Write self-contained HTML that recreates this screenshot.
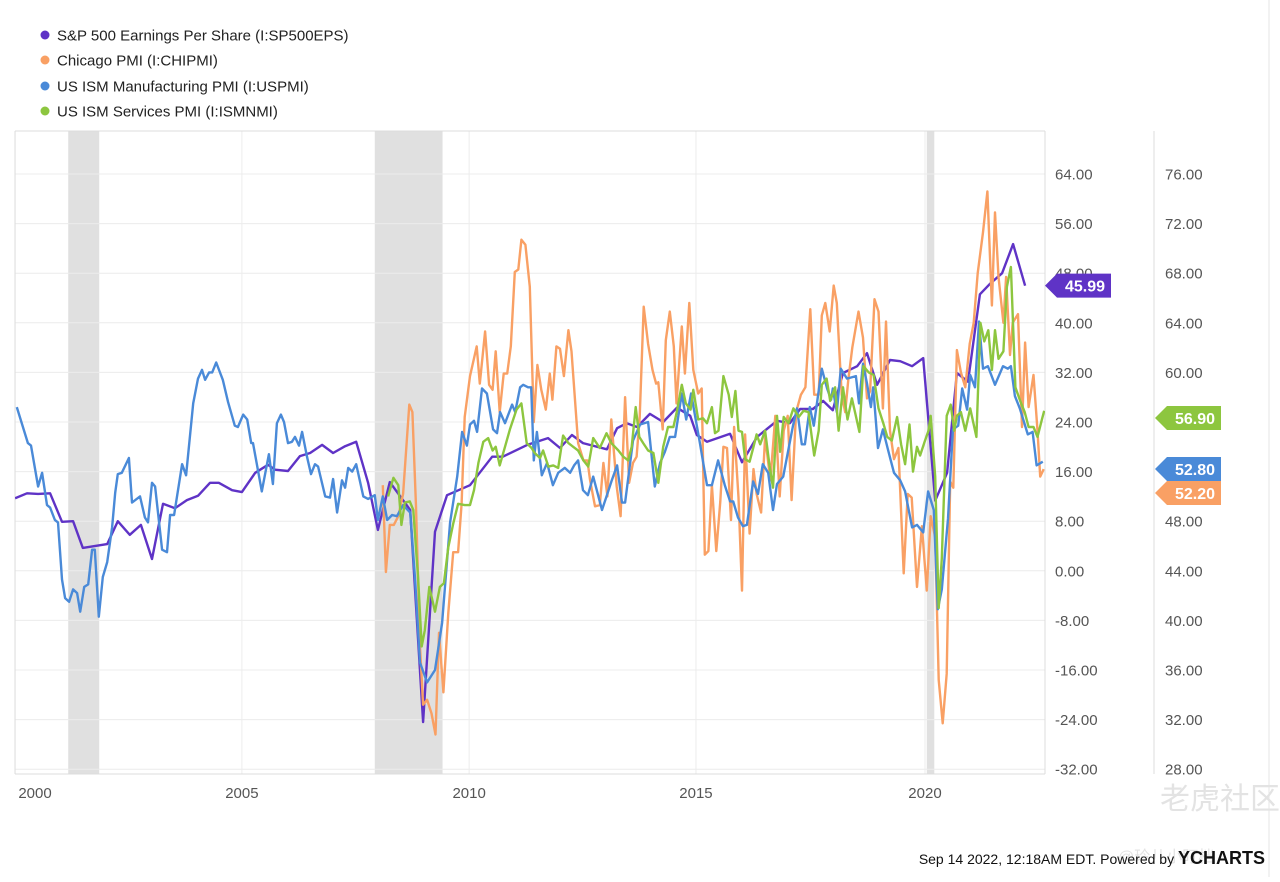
<!DOCTYPE html>
<html><head><meta charset="utf-8"><style>
html,body{margin:0;padding:0;background:#fff;}
body{width:1280px;height:877px;overflow:hidden;font-family:"Liberation Sans","Noto Sans CJK SC",sans-serif;}
svg text{font-family:"Liberation Sans","Noto Sans CJK SC",sans-serif;}
</style></head><body>
<svg id="chart" width="1280" height="877" xmlns="http://www.w3.org/2000/svg">
<rect x="0" y="0" width="1280" height="877" fill="#fff"/>
<line x1="1269" y1="0" x2="1269" y2="877" stroke="#e6e6e6"/>
<g id="legend">
<g><circle cx="45" cy="35" r="4.5" fill="#5f33c6"/><text x="57" y="40.5" font-size="15" fill="#222">S&amp;P 500 Earnings Per Share (I:SP500EPS)</text></g>
<g><circle cx="45" cy="60" r="4.5" fill="#f9a064"/><text x="57" y="65.5" font-size="15" fill="#222">Chicago PMI (I:CHIPMI)</text></g>
<g><circle cx="45" cy="86" r="4.5" fill="#4a8ad8"/><text x="57" y="91.5" font-size="15" fill="#222">US ISM Manufacturing PMI (I:USPMI)</text></g>
<g><circle cx="45" cy="111" r="4.5" fill="#8dc63f"/><text x="57" y="116.5" font-size="15" fill="#222">US ISM Services PMI (I:ISMNMI)</text></g>
</g>
<g id="bands"></g>
<g id="grid"></g>
<g id="axes"></g>
<defs><clipPath id="clip"><rect x="15" y="131" width="1030" height="643"/></clipPath></defs>
<g id="series" clip-path="url(#clip)"></g>
<g id="tags"></g>
<text x="1160" y="809" font-size="30" fill="#e3e3e3">老虎社区</text>
<text x="1118" y="862" font-size="16" fill="#e3e3e3">@玲儿小盯档</text>
<text x="1265" y="864" font-size="14" fill="#111" text-anchor="end">Sep 14 2022, 12:18AM EDT. Powered by <tspan font-weight="bold" font-size="18">YCHARTS</tspan></text>
</svg>
<script>
const leftTicks=[64,56,48,40,32,24,16,8,0,-8,-16,-24,-32];
const rightTicks=[76,72,68,64,60,56,52,48,44,40,36,32,28];
const yearTickPos=[1999.55,2004.67,2009.80,2014.92,2020.09];
const yearTickLabels=['2000','2005','2010','2015','2020'];
const recessions=[[2000.75,2001.45],[2007.67,2009.2],[2020.13,2020.3]];

const epsYears=[1999.55,1999.82,2000.07,2000.34,2000.61,2000.86,2001.08,2001.63,2001.87,2002.14,2002.39,2002.64,2002.89,2003.16,2003.43,2003.68,2003.95,2004.15,2004.45,2004.67,2004.97,2005.26,2005.42,2005.71,2005.98,2006.21,2006.48,2006.73,2007.0,2007.25,2007.52,2007.74,2008.01,2008.47,2008.76,2009.03,2009.30,2009.82,2010.32,2010.56,2011.11,2011.58,2011.85,2012.12,2012.37,2012.91,2013.14,2013.36,2013.59,2013.88,2014.18,2014.49,2014.79,2014.94,2015.17,2015.69,2015.96,2016.30,2016.75,2017.04,2017.27,2017.56,2017.79,2018.01,2018.24,2018.56,2018.78,2019.01,2019.30,2019.53,2019.80,2020.05,2020.32,2020.59,2020.81,2021.06,2021.33,2021.56,2021.83,2022.08,2022.35];
const epsValues=[11.7,12.5,12.4,12.5,7.9,8.0,3.7,4.3,8.0,5.8,7.4,1.9,10.8,10.1,11.4,12.1,14.2,14.2,13.0,12.7,15.8,17.1,16.3,16.1,18.5,19.0,20.3,19.0,20.1,20.8,14.2,6.6,14.3,9.8,-24.4,6.3,12.2,13.8,18.4,18.4,20.3,21.4,19.8,21.9,20.6,19.6,23.0,23.8,23.2,25.3,24.0,26.3,25.0,21.9,20.8,22.1,17.5,21.6,24.2,23.8,26.1,26.1,27.4,25.9,31.9,33.0,35.1,30.0,34.0,33.8,33.0,34.3,11.3,15.8,31.9,30.5,44.6,46.3,48.0,52.7,45.99];

const ismYears=[1999.59,1999.84,1999.91,2000.07,2000.16,2000.27,2000.34,2000.45,2000.52,2000.61,2000.68,2000.77,2000.86,2000.95,2001.02,2001.11,2001.20,2001.29,2001.35,2001.44,2001.53,2001.63,2001.74,2001.81,2001.87,2001.96,2002.12,2002.19,2002.37,2002.48,2002.55,2002.64,2002.71,2002.87,2002.98,2003.05,2003.14,2003.32,2003.41,2003.57,2003.68,2003.77,2003.84,2003.93,2004.00,2004.09,2004.24,2004.36,2004.51,2004.58,2004.70,2004.79,2004.88,2004.92,2005.12,2005.28,2005.37,2005.46,2005.55,2005.62,2005.71,2005.80,2005.87,2005.96,2006.03,2006.14,2006.23,2006.32,2006.39,2006.55,2006.66,2006.73,2006.82,2006.93,2007.00,2007.07,2007.16,2007.25,2007.41,2007.52,2007.67,2007.74,2007.85,2007.95,2008.06,2008.17,2008.31,2008.47,2008.58,2008.69,2008.85,2009.03,2009.19,2009.37,2009.53,2009.64,2009.75,2009.82,2009.91,2009.98,2010.09,2010.20,2010.34,2010.43,2010.50,2010.61,2010.77,2010.84,2010.95,2011.02,2011.13,2011.20,2011.26,2011.33,2011.44,2011.56,2011.69,2011.81,2011.96,2012.08,2012.17,2012.26,2012.37,2012.48,2012.60,2012.80,2012.91,2013.02,2013.14,2013.25,2013.32,2013.50,2013.66,2013.84,2013.99,2014.11,2014.22,2014.33,2014.45,2014.60,2014.70,2014.81,2015.01,2015.17,2015.28,2015.42,2015.57,2015.69,2015.76,2015.87,2015.98,2016.07,2016.21,2016.32,2016.43,2016.55,2016.66,2016.75,2016.89,2017.11,2017.20,2017.31,2017.38,2017.49,2017.58,2017.76,2017.88,2017.97,2018.01,2018.10,2018.19,2018.33,2018.53,2018.60,2018.69,2018.78,2018.87,2018.92,2019.03,2019.14,2019.26,2019.39,2019.53,2019.64,2019.80,2019.91,2020.05,2020.16,2020.29,2020.38,2020.47,2020.61,2020.72,2020.84,2020.93,2021.04,2021.11,2021.22,2021.31,2021.40,2021.51,2021.67,2021.85,2021.96,2022.03,2022.12,2022.23,2022.41,2022.52,2022.61,2022.75];
const ismValues=[57.2,54.3,54.1,50.8,51.9,49.3,49.1,48.1,47.9,43.3,41.8,41.5,42.5,42.2,40.7,42.7,42.9,45.7,45.7,40.3,43.5,44.7,47.5,50.3,51.8,51.9,53.1,49.5,50.0,48.3,47.9,51.1,50.8,45.7,45.5,48.5,48.5,52.6,51.7,57.5,59.5,60.2,59.4,60.0,60.0,60.8,59.4,57.6,55.7,55.6,56.6,56.2,54.3,54.3,50.4,53.4,51.0,55.9,56.6,56.0,54.3,54.4,54.8,54.1,55.2,53.2,51.8,52.6,52.4,50.0,49.9,51.4,48.7,51.3,50.7,52.3,52.0,52.6,50.0,49.8,50.1,48.1,50.0,48.1,48.5,48.4,49.3,48.7,43.3,36.6,35.0,36.0,39.8,47.9,51.6,55.2,54.1,55.8,56.1,55.2,58.7,58.3,55.4,55.1,56.8,55.9,57.4,56.8,58.8,59.0,58.8,58.8,52.9,55.2,51.7,52.7,50.9,51.9,52.3,51.9,52.5,52.9,50.5,50.1,51.6,48.9,50.1,51.3,52.5,49.5,49.5,54.5,55.8,56.0,50.8,52.7,53.6,54.8,54.8,58.3,56.2,58.3,54.3,50.9,50.9,52.9,50.9,49.6,49.6,48.3,47.6,47.7,51.2,50.2,52.6,51.9,48.9,51.0,51.6,55.7,57.1,54.2,54.2,57.2,55.7,60.3,58.7,57.8,58.7,56.8,60.3,59.5,59.7,57.5,60.7,59.1,57.2,58.8,53.9,55.4,53.7,51.9,51.3,50.4,47.5,47.7,47.1,50.4,48.9,40.9,42.5,48.2,55.4,55.7,58.7,57.0,59.8,58.8,64.1,60.3,60.5,59.0,60.5,60.3,60.5,58.1,57.1,55.0,55.2,52.5,52.8];

const chiYears=[2007.85,2007.92,2008.01,2008.10,2008.20,2008.31,2008.45,2008.52,2008.60,2008.69,2008.76,2008.85,2008.95,2009.04,2009.12,2009.22,2009.33,2009.44,2009.55,2009.63,2009.70,2009.82,2009.97,2010.04,2010.16,2010.25,2010.33,2010.40,2010.49,2010.58,2010.66,2010.74,2010.83,2010.91,2010.98,2011.07,2011.17,2011.26,2011.34,2011.43,2011.53,2011.62,2011.68,2011.77,2011.85,2011.94,2012.04,2012.11,2012.26,2012.38,2012.47,2012.53,2012.64,2012.75,2012.83,2012.92,2013.01,2013.13,2013.22,2013.32,2013.41,2013.50,2013.58,2013.65,2013.74,2013.84,2013.94,2014.02,2014.07,2014.17,2014.24,2014.33,2014.42,2014.48,2014.60,2014.67,2014.77,2014.86,2014.97,2015.05,2015.12,2015.20,2015.28,2015.38,2015.47,2015.54,2015.62,2015.71,2015.78,2015.88,2015.96,2016.03,2016.13,2016.22,2016.29,2016.39,2016.48,2016.60,2016.71,2016.81,2016.90,2016.99,2017.08,2017.18,2017.29,2017.39,2017.50,2017.59,2017.69,2017.76,2017.84,2017.94,2018.03,2018.10,2018.21,2018.29,2018.36,2018.45,2018.59,2018.69,2018.78,2018.85,2018.95,2019.04,2019.14,2019.21,2019.30,2019.39,2019.49,2019.61,2019.70,2019.79,2019.91,2020.02,2020.13,2020.22,2020.32,2020.40,2020.49,2020.58,2020.66,2020.73,2020.81,2020.90,2021.00,2021.10,2021.19,2021.28,2021.40,2021.50,2021.60,2021.67,2021.75,2021.86,2021.92,2022.01,2022.07,2022.19,2022.28,2022.35,2022.43,2022.54,2022.63,2022.69,2022.77];
const chiValues=[50.9,43.9,47.7,47.7,48.4,50.2,57.4,56.8,49.2,37.9,33.2,33.6,32.5,30.8,39.0,34.2,40.6,45.5,45.5,49.4,56.4,59.7,62.1,59.1,63.3,59.0,58.6,61.7,56.8,59.9,59.9,62.1,68.1,68.3,70.7,70.3,66.9,56.0,60.6,58.6,57.0,59.9,57.8,62.1,61.9,59.7,63.4,61.7,54.3,52.9,52.9,51.3,49.2,49.3,52.7,50.0,56.2,50.8,48.4,58.0,51.1,52.7,53.2,56.4,65.3,62.3,60.2,59.1,59.2,55.4,62.6,64.9,62.1,57.5,63.7,59.9,65.6,60.2,58.3,58.7,45.3,45.6,50.9,45.6,49.6,54.0,53.9,48.1,55.6,49.9,42.4,55.0,47.0,52.2,50.2,48.7,54.8,51.3,56.5,50.0,55.3,56.5,49.7,56.8,58.2,58.8,65.1,58.2,58.2,64.6,65.6,63.3,67.0,65.6,58.2,56.8,59.4,62.0,64.9,62.8,57.9,58.5,65.9,64.9,57.1,64.1,55.3,53.0,53.9,43.8,50.2,49.9,42.7,47.6,42.4,48.4,46.7,35.2,31.7,35.7,51.2,50.7,61.8,60.0,58.8,62.3,64.0,68.0,71.3,74.6,65.4,72.9,67.7,64.0,67.7,61.4,64.0,64.7,55.6,62.4,57.2,59.8,55.3,51.6,52.2];

const svcYears=[2007.97,2008.09,2008.20,2008.27,2008.35,2008.46,2008.54,2008.65,2008.73,2008.80,2008.90,2009.03,2009.14,2009.23,2009.33,2009.44,2009.55,2009.70,2009.82,2009.91,2010.01,2010.12,2010.23,2010.33,2010.40,2010.49,2010.61,2010.72,2010.87,2010.98,2011.10,2011.21,2011.28,2011.40,2011.47,2011.59,2011.70,2011.81,2011.92,2012.04,2012.15,2012.26,2012.38,2012.49,2012.60,2012.75,2012.90,2013.01,2013.17,2013.28,2013.39,2013.47,2013.56,2013.64,2013.73,2013.84,2013.96,2014.07,2014.18,2014.29,2014.41,2014.48,2014.60,2014.69,2014.80,2014.86,2014.97,2015.08,2015.17,2015.28,2015.35,2015.43,2015.54,2015.66,2015.73,2015.81,2015.88,2015.96,2016.03,2016.13,2016.22,2016.29,2016.37,2016.48,2016.58,2016.66,2016.75,2016.82,2016.90,2017.01,2017.12,2017.24,2017.35,2017.46,2017.59,2017.69,2017.76,2017.87,2017.95,2018.06,2018.14,2018.24,2018.34,2018.44,2018.51,2018.61,2018.70,2018.82,2018.93,2019.04,2019.15,2019.24,2019.34,2019.46,2019.55,2019.64,2019.74,2019.82,2019.91,2019.98,2020.09,2020.17,2020.22,2020.32,2020.40,2020.47,2020.58,2020.67,2020.75,2020.81,2020.90,2021.00,2021.11,2021.25,2021.34,2021.43,2021.52,2021.60,2021.67,2021.75,2021.86,2021.94,2022.03,2022.13,2022.24,2022.34,2022.43,2022.54,2022.63,2022.73,2022.78];
const svcValues=[50.0,51.5,50.9,47.7,49.5,49.6,48.9,43.3,37.9,39.2,42.7,40.7,42.7,43.0,45.9,47.8,49.4,49.3,49.3,50.5,52.7,54.4,54.7,53.7,54.0,52.5,54.0,55.4,57.0,57.5,54.3,53.9,53.5,53.1,53.7,52.4,52.5,52.3,54.9,54.3,54.0,53.7,52.9,52.4,54.7,53.9,55.1,54.3,53.7,53.2,52.9,54.0,57.2,54.8,54.3,53.7,53.5,51.1,54.0,55.6,55.6,56.7,59.0,57.5,57.0,58.6,56.2,56.3,55.9,57.2,55.1,55.3,59.7,58.2,56.4,58.5,55.3,55.2,53.0,52.8,54.0,55.0,54.2,55.3,52.5,50.7,56.5,53.6,56.4,55.9,57.1,56.4,56.9,56.8,53.3,55.3,59.0,59.5,57.7,58.8,55.3,58.8,56.2,57.9,56.8,55.2,60.5,60.0,59.8,57.1,55.9,54.8,54.5,56.4,54.2,52.6,55.8,52.0,54.0,53.3,54.5,55.3,56.5,51.6,41.0,45.0,56.5,57.4,55.3,56.5,56.8,55.3,57.1,54.8,64.0,62.5,63.4,60.2,63.4,61.1,61.7,66.9,68.5,58.8,57.7,56.8,55.6,55.6,54.8,56.2,56.9];

const NS='http://www.w3.org/2000/svg';
const X0=35,PXY=44.3;
function xOf(yr){return X0+(yr-2000)*PXY;}
function yL(v){return 174+(64-v)*6.2;}
function yR(v){return 174+(76-v)*12.4;}
function mk(tag,attrs,parent){const e=document.createElementNS(NS,tag);for(const k in attrs)e.setAttribute(k,attrs[k]);parent.appendChild(e);return e;}

const bands=document.getElementById('bands');
recessions.forEach(r=>{
  const e=mk('rect',{x:xOf(r[0]),y:131,width:xOf(r[1])-xOf(r[0]),height:643,fill:'#e0e0e0'},bands);
  
  
});

const grid=document.getElementById('grid');
leftTicks.forEach(t=>{
  const y=yL(t);
  if(y>131&&y<774){const l=mk('line',{x1:15,x2:1045,y1:y,y2:y,stroke:'#ececec','stroke-width':1},grid);
  
  }
});
yearTickPos.forEach(t=>{
  const x=xOf(t);
  const l=mk('line',{x1:x,x2:x,y1:131,y2:774,stroke:'#ececec','stroke-width':1},grid);
  
  
});

const axes=document.getElementById('axes');
[[15,131,15,774],[15,131,1045,131],[1045,131,1045,774],[15,774,1045,774],[1154,131,1154,774]].forEach(a=>{
  const l=mk('line',{x1:a[0],y1:a[1],x2:a[2],y2:a[3],stroke:'#dcdcdc','stroke-width':1},axes);
  
  
});
leftTicks.forEach(t=>{
  const e=mk('text',{x:1055,y:yL(t)+5.5,'font-size':15,fill:'#555'},axes);
  e.textContent=t.toFixed(2);
  
  
});
rightTicks.forEach(t=>{
  const e=mk('text',{x:1165,y:yR(t)+5.5,'font-size':15,fill:'#555'},axes);
  e.textContent=t.toFixed(2);
  
  
});
yearTickPos.forEach((t,i)=>{
  const x=Math.max(xOf(t),35);
  const e=mk('text',{x:x,y:798,'font-size':15,fill:'#555','text-anchor':'middle'},axes);
  e.textContent=yearTickLabels[i];
  
  
});

const series=document.getElementById('series');
function line(xs,vs,yf,color,name){
  const d=xs.map((x,i)=>(i?'L':'M')+xOf(x).toFixed(1)+','+yf(vs[i]).toFixed(1)).join('');
  const p=mk('path',{d:d,fill:'none',stroke:color,'stroke-width':2.4,'stroke-linejoin':'round'},series);
  
  
}
line(epsYears,epsValues,yL,'#5f33c6','sp500-eps-line');
line(chiYears,chiValues,yR,'#f9a064','chicago-pmi-line');
line(ismYears,ismValues,yR,'#4a8ad8','ism-manufacturing-line');
line(svcYears,svcValues,yR,'#8dc63f','ism-services-line');

const tags=document.getElementById('tags');
function tag(x,yc,val,color,name){
  const g=mk('g',{},tags);
  
  
  mk('path',{d:`M${x},${yc} L${x+12},${yc-12} L${x+66},${yc-12} L${x+66},${yc+12} L${x+12},${yc+12} Z`,fill:color},g);
  const t=mk('text',{x:x+40,y:yc+6,'font-size':16,'font-weight':'bold',fill:'#fff','text-anchor':'middle'},g);
  t.textContent=val;
}
tag(1045,yL(epsValues[epsValues.length-1]),epsValues[epsValues.length-1].toFixed(2),'#5f33c6','eps-last-value-tag');
tag(1155,418,svcValues[svcValues.length-1].toFixed(2),'#8dc63f','services-last-value-tag');
tag(1155,469,ismValues[ismValues.length-1].toFixed(2),'#4a8ad8','manufacturing-last-value-tag');
tag(1155,493,chiValues[chiValues.length-1].toFixed(2),'#f9a064','chicago-last-value-tag');
</script>
</body></html>
